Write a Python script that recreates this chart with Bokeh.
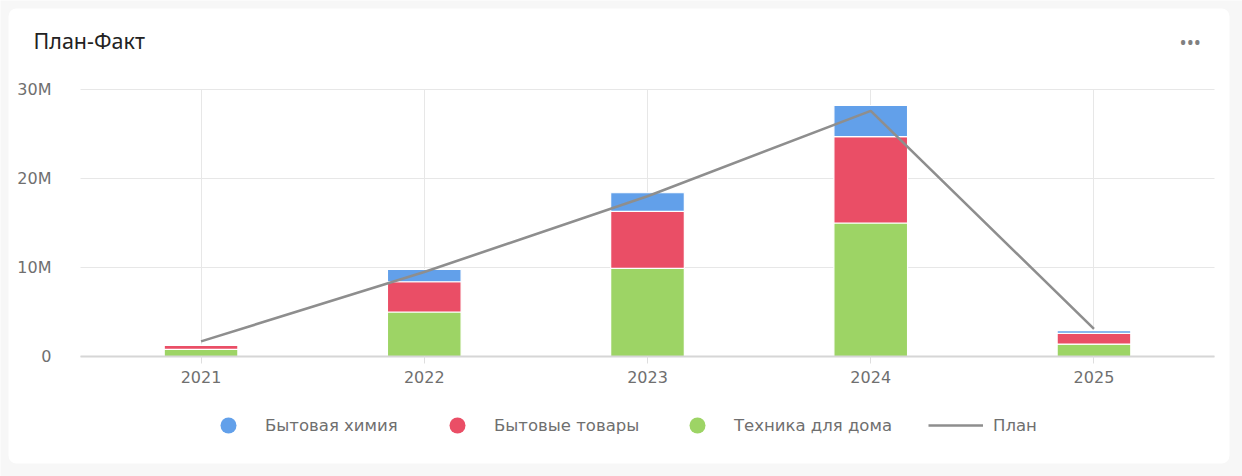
from bokeh.plotting import figure
from bokeh.models import (Range1d, FixedTicker, Label, Legend, LegendItem,
                          ColumnDataSource, BoxAnnotation)
from bokeh.embed import file_html
from bokeh.resources import INLINE

# ---- data (values in millions) ----
years = ["2021", "2022", "2023", "2024", "2025"]
tehnika = [0.8, 5.0, 9.9, 15.0, 1.4]      # Техника для дома (green, bottom)
tovary = [0.45, 3.4, 6.4, 9.7, 1.2]       # Бытовые товары (red, middle)
himiya = [0.03, 1.4, 2.1, 3.5, 0.3]       # Бытовая химия (blue, top)
plan = [1.7, 9.5, 18.0, 27.6, 3.1]        # План (line)
y_ticks = [0, 10, 20, 30]
y_tick_labels = ["0", "10M", "20M", "30M"]
legend_names = ["Бытовая химия", "Бытовые товары", "Техника для дома"]
plan_name = "План"
title_text = "План-Факт"

# ---- layout constants (pixels) ----
W, H = 1242, 476
AREA_L, AREA_R, AREA_T, AREA_B = 80, 1214, 89, 356   # plot area
PAD = 0.54                                            # category padding
Y_MAX = 30

FONT = "DejaVu Sans"
TFONT = "Noto Sans"
C_BLUE, C_RED, C_GREEN = "#62a0ea", "#ea4e66", "#9dd465"
C_PLAN = "#8e8e8e"
GRID = "#e7e7e7"
TXT = "#6f6f6f"

n = len(years)
xs = list(range(n))
px_per_cat = (AREA_R - AREA_L) / (n - 1 + 2 * PAD)
x_left = -PAD
x_right = n - 1 + PAD
x_start = x_left - AREA_L / px_per_cat
x_end = x_right + (W - AREA_R) / px_per_cat
px_per_unit = (AREA_B - AREA_T) / Y_MAX
y_start = -(H - AREA_B) / px_per_unit
y_end = Y_MAX + AREA_T / px_per_unit

p = figure(width=W, height=H, output_backend="svg", toolbar_location=None,
           x_range=Range1d(x_start, x_end), y_range=Range1d(y_start, y_end),
           min_border=0)
p.outline_line_color = None
p.background_fill_color = "#f7f7f7"
p.border_fill_color = "#f7f7f7"

# white card
p.add_layout(BoxAnnotation(left=8, right=1229, top=H - 8, bottom=H - 463,
                           left_units="screen", right_units="screen",
                           top_units="screen", bottom_units="screen",
                           fill_color="white", fill_alpha=1, line_color=None,
                           border_radius=8, level="image"))

src = ColumnDataSource(dict(x=xs, tehnika=tehnika, tovary=tovary, himiya=himiya, plan=plan))
p.vbar_stack(["tehnika", "tovary", "himiya"], x="x", width=0.33, source=src,
             fill_color=[C_GREEN, C_RED, C_BLUE], line_color="white", line_width=1.2)
plan_r = p.line(x="x", y="plan", source=src, line_color=C_PLAN, line_width=2.6)

# axes
xt = FixedTicker(ticks=xs)
yt = FixedTicker(ticks=y_ticks)
p.xaxis.ticker = xt
p.xaxis.major_label_overrides = {i: y for i, y in zip(xs, years)}
p.xaxis.fixed_location = 0
p.xaxis.bounds = (x_left, x_right)
p.xaxis.axis_line_color = "#d6d6d6"
p.xaxis.axis_line_width = 2
p.xaxis.major_tick_line_color = "#dedede"
p.xaxis.major_tick_in = 0
p.xaxis.major_tick_out = 7
p.xaxis.minor_tick_line_color = None
p.xaxis.major_label_standoff = 7
p.xaxis.major_label_text_font = FONT
p.xaxis.major_label_text_font_size = "16px"
p.xaxis.major_label_text_color = TXT

p.yaxis.ticker = yt
p.yaxis.major_label_overrides = {t: l for t, l in zip(y_ticks, y_tick_labels)}
p.yaxis.fixed_location = x_left
p.yaxis.axis_line_color = None
p.yaxis.major_tick_line_color = None
p.yaxis.minor_tick_line_color = None
p.yaxis.major_label_standoff = 23
p.yaxis.major_label_text_font = FONT
p.yaxis.major_label_text_font_size = "16px"
p.yaxis.major_label_text_color = TXT

p.xgrid.ticker = xt
p.ygrid.ticker = yt
p.xgrid.cross_bounds = (0, Y_MAX)
p.ygrid.cross_bounds = (x_left, x_right)
p.xgrid.grid_line_color = GRID
p.ygrid.grid_line_color = GRID

# title and menu dots (screen y measured from bottom)
p.add_layout(Label(x=33, y=H - 40, x_units="screen", y_units="screen", text=title_text,
                   text_font=TFONT, text_font_size="21.5px", text_color="#222222",
                   text_baseline="alphabetic"))
p.add_layout(Label(x=1179, y=H - 42, x_units="screen", y_units="screen", text="•••",
                   text_font=TFONT, text_font_size="19px", text_color="#808080",
                   text_baseline="middle"))

# legend (dummy markers outside the visible range)
dummy = ColumnDataSource(dict(x=[0], y=[-1000]))
dot_colors = [C_BLUE, C_RED, C_GREEN]
dot_x = [228, 457, 697]
LEG_BOTTOM = H - 445
for name, col, cx in zip(legend_names, dot_colors, dot_x):
    r = p.scatter("x", "y", source=dummy, marker="circle", size=16,
                  fill_color=col, line_color=None)
    leg = Legend(items=[LegendItem(label=name, renderers=[r])],
                 location=(cx - 20, LEG_BOTTOM), orientation="horizontal",
                 glyph_width=40, glyph_height=40, label_standoff=17,
                 padding=0, margin=0, border_line_color=None, background_fill_alpha=0,
                 label_text_font=FONT, label_text_font_size="16.5px", label_text_color=TXT)
    p.add_layout(leg)

leg_plan = Legend(items=[LegendItem(label=plan_name, renderers=[plan_r])],
                  location=(928, LEG_BOTTOM), orientation="horizontal",
                  glyph_width=55, glyph_height=40, label_standoff=10,
                  padding=0, margin=0, border_line_color=None, background_fill_alpha=0,
                  label_text_font=FONT, label_text_font_size="16.5px", label_text_color=TXT)
p.add_layout(leg_plan)

open("out.html", "w").write(file_html(p, INLINE))
